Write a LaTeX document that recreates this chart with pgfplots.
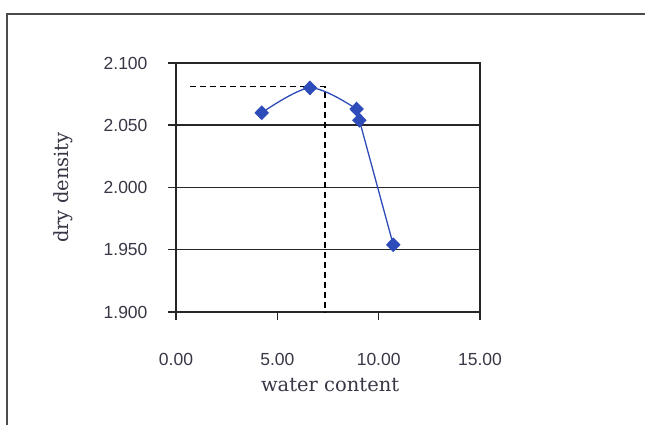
\documentclass[border=0pt]{standalone}
\usepackage{pgfplots}
\pgfplotsset{compat=1.18}
\usepackage{fontspec}
\setmainfont{DejaVu Serif}
\newfontfamily\tickfont{Liberation Sans}
\definecolor{serblue}{RGB}{45,75,185}
\definecolor{txtgray}{RGB}{55,55,70}
\begin{document}
\begin{tikzpicture}
\useasboundingbox (0pt,0pt) rectangle (645pt,425pt);
\begin{scope}
\clip (0pt,0pt) rectangle (645pt,425pt);
\draw[line width=1.8pt, black!70] (7pt,-20pt) -- (7pt,411pt) -- (680pt,411pt);
\end{scope}
\begin{axis}[
  at={(176pt,113pt)}, anchor=south west,
  scale only axis, width=304pt, height=249pt,
  xmin=0, xmax=15, ymin=1.9, ymax=2.1,
  xtick={0,5,10,15}, ytick={1.9,1.95,2.0,2.05,2.1},
  tick align=outside, major tick length=8pt,
  xtick pos=bottom, ytick pos=left,
  axis line style={black!85, line width=1.5pt},
  every tick/.style={black!85, line width=1.5pt},
  ymajorgrids, major grid style={black!85, line width=1.5pt},
  /pgf/number format/assume math mode=true,
  xticklabel style={/pgf/number format/.cd, fixed, fixed zerofill, precision=2, /tikz/.cd, font=\tickfont\fontsize{17.5}{19}\selectfont, text=txtgray, yshift=-30pt},
  yticklabel style={/pgf/number format/.cd, fixed, fixed zerofill, precision=3, /tikz/.cd, font=\tickfont\fontsize{17.5}{19}\selectfont, text=txtgray, xshift=-17pt},
  xlabel={water content}, ylabel={dry density},
  every axis x label/.style={at={(axis description cs:0.507,-0.293)}, anchor=center, font=\fontsize{19.5}{22}\selectfont, text=txtgray},
  every axis y label/.style={at={(axis description cs:-0.372,0.5)}, rotate=90, anchor=center, font=\fontsize{19.5}{22}\selectfont, text=txtgray},
  clip=false,
]
\addplot[black, line width=1.4pt, dash pattern=on 6pt off 4pt] coordinates {(0.69,2.081) (7.35,2.081) (7.35,1.9)};
\addplot[serblue, line width=1.3pt, smooth, mark=diamond*, mark size=6.5pt, mark options={solid, fill=serblue, xscale=1.3}] coordinates {
(4.23,2.060) (6.61,2.080) (8.91,2.063) (9.05,2.054) (10.72,1.954)};
\end{axis}
\end{tikzpicture}
\end{document}
